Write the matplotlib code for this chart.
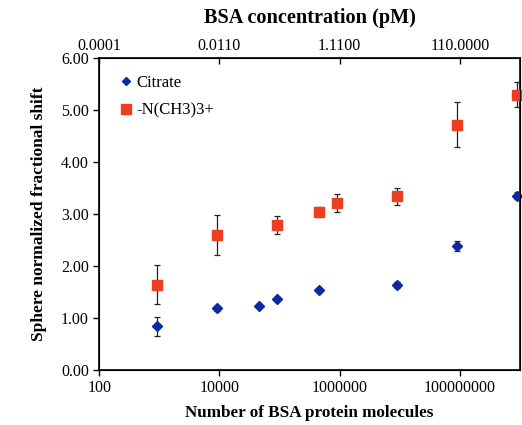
import numpy as np
import matplotlib
matplotlib.use("Agg")
import matplotlib.pyplot as plt
from matplotlib.lines import Line2D

plt.rcParams['font.family'] = ['Liberation Serif', 'DejaVu Serif']

# Datos
n_citrate = [900, 9000, 45000, 90000, 450000, 9e6, 9e7, 9e8]
y_citrate = [0.84, 1.19, 1.24, 1.37, 1.53, 1.64, 2.38, 3.35]
e_citrate = [0.18, 0.05, 0.03, 0.03, 0.03, 0.06, 0.10, 0.07]

n_amine = [900, 9000, 90000, 450000, 900000, 9e6, 9e7, 9e8]
y_amine = [1.64, 2.60, 2.79, 3.04, 3.21, 3.34, 4.72, 5.29]
e_amine = [0.37, 0.39, 0.17, 0.10, 0.18, 0.16, 0.44, 0.24]

bottom_ticks = [100, 10000, 1000000, 100000000]
bottom_labels = ['100', '10000', '1000000', '100000000']
top_labels = ['0.0001', '0.0110', '1.1100', '110.0000']

blue = '#0b2aa0'
red = '#ee3e22'

fig = plt.figure(figsize=(5.22, 4.25), dpi=100)
ax = fig.add_axes([0.19, 0.1294, 0.806, 0.7341])

ax.errorbar(n_citrate, y_citrate, yerr=e_citrate, fmt='D', color=blue,
            ecolor='#222222', elinewidth=0.9, capsize=2.5, capthick=0.9,
            markersize=5, clip_on=False, zorder=3)
ax.errorbar(n_amine, y_amine, yerr=e_amine, fmt='s', color=red,
            ecolor='#222222', elinewidth=0.9, capsize=2.5, capthick=0.9,
            markersize=7, clip_on=False, zorder=3)

ax.set_xscale('log')
ax.set_xlim(100, 1e9)
ax.set_ylim(0, 6)
ax.set_xticks(bottom_ticks)
ax.set_xticklabels(bottom_labels)
ax.xaxis.set_minor_locator(matplotlib.ticker.NullLocator())
ax.set_yticks(np.arange(0, 7, 1))
ax.set_yticklabels(['%.2f' % v for v in np.arange(0, 7, 1)])
ax.tick_params(axis='both', labelsize=11.5, direction='out', length=4, width=1)
for s in ax.spines.values():
    s.set_linewidth(1.2)

ax.set_xlabel('Number of BSA protein molecules', fontsize=12.3, fontweight='bold', labelpad=6)
ax.set_ylabel('Sphere normalized fractional shift', fontsize=12.5, fontweight='bold', labelpad=10)

ax2 = ax.twiny()
ax2.set_xscale('log')
ax2.set_xlim(ax.get_xlim())
ax2.set_xticks(bottom_ticks)
ax2.set_xticklabels(top_labels)
ax2.xaxis.set_minor_locator(matplotlib.ticker.NullLocator())
ax2.tick_params(axis='x', labelsize=11.5, direction='in', length=4, width=1, pad=3)
ax2.set_xlabel('BSA concentration (pM)', fontsize=14.6, fontweight='bold', labelpad=11)

handles = [Line2D([], [], marker='D', color=blue, linestyle='none', markersize=4.5),
           Line2D([], [], marker='s', color=red, linestyle='none', markersize=7)]
ax.legend(handles, ['Citrate', '-N(CH3)3+'], loc='upper left', frameon=False,
          fontsize=12, handletextpad=0.05, handlelength=1.2,
          bbox_to_anchor=(0.0, 1.0), borderaxespad=0.6, labelspacing=0.7)

fig.savefig('out.png', dpi=100)
